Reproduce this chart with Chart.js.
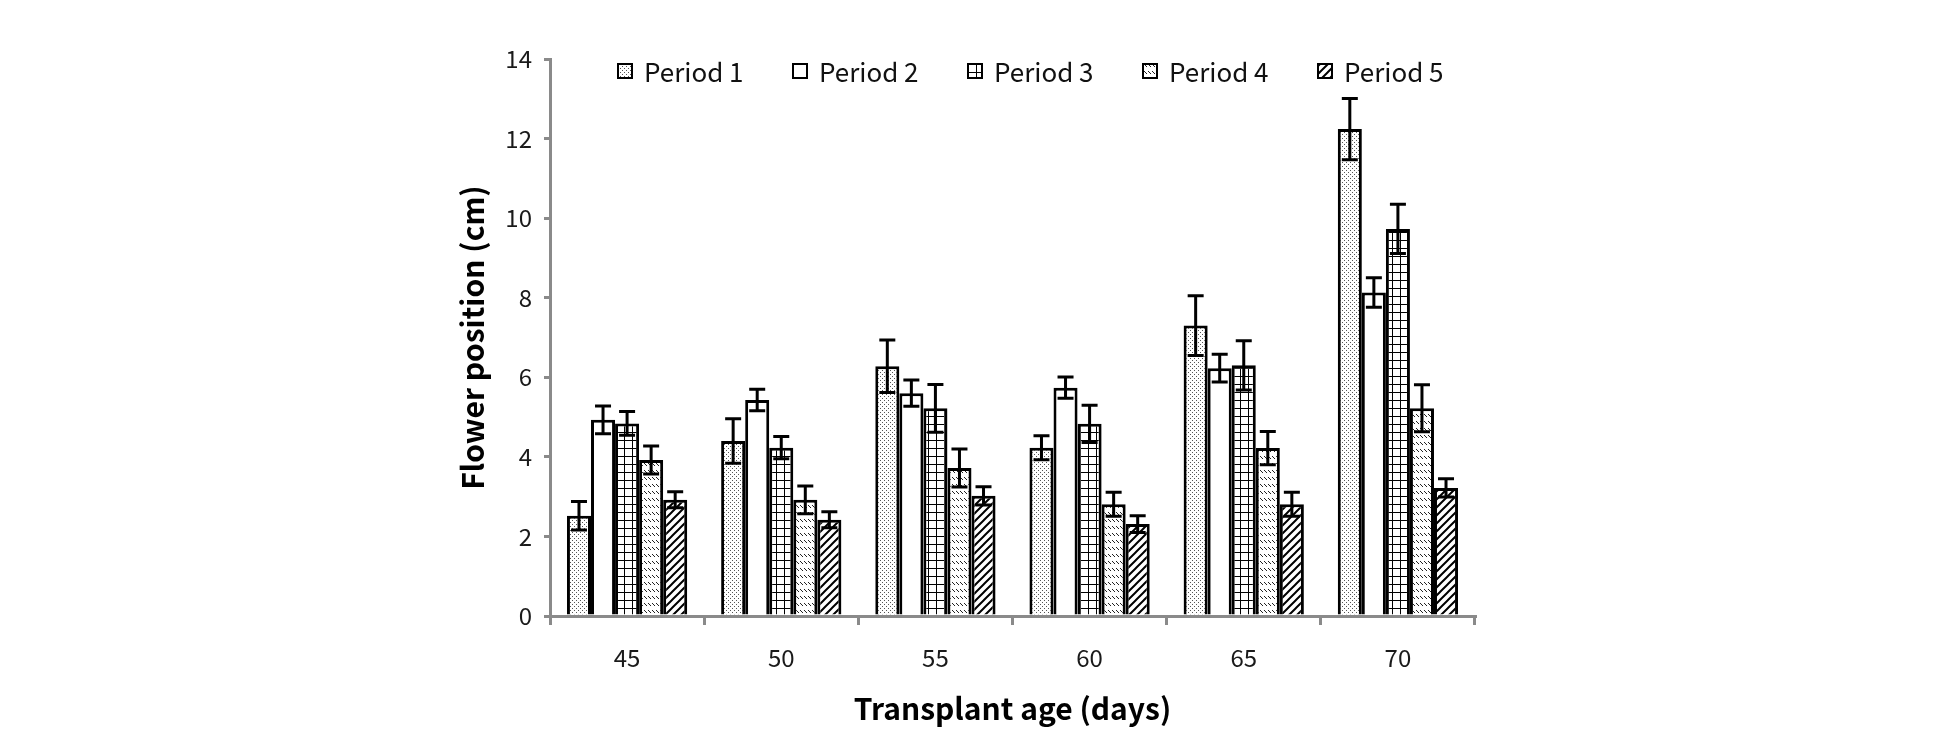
<!DOCTYPE html>
<html>
<head>
<meta charset="utf-8">
<script src="https://cdn.jsdelivr.net/npm/chart.js@4.4.1/dist/chart.umd.min.js"></script>
<style>
  html, body { margin: 0; padding: 0; background: #fff; }
  #wrap { width: 1952px; height: 741px; }
</style>
</head>
<body>
<div id="wrap"><canvas id="c" width="1952" height="741"></canvas></div>
<script>
// ---- data ----
const categories = ['45', '50', '55', '60', '65', '70'];
const seriesNames = ['Period 1', 'Period 2', 'Period 3', 'Period 4', 'Period 5'];
const period1 = [2.52, 4.40, 6.28, 4.23, 7.30, 12.24];
const period2 = [4.93, 5.43, 5.60, 5.74, 6.23, 8.13];
const period3 = [4.84, 4.23, 5.22, 4.83, 6.30, 9.73];
const period4 = [3.92, 2.92, 3.72, 2.81, 4.22, 5.22];
const period5 = [2.92, 2.42, 3.02, 2.31, 2.81, 3.22];
const err1 = [0.36, 0.56, 0.66, 0.30, 0.75, 0.77];
const err2 = [0.35, 0.27, 0.33, 0.27, 0.35, 0.37];
const err3 = [0.30, 0.28, 0.60, 0.47, 0.62, 0.62];
const err4 = [0.35, 0.35, 0.48, 0.30, 0.42, 0.59];
const err5 = [0.20, 0.20, 0.23, 0.21, 0.30, 0.23];
const yTicksMin = 0, yTicksMax = 14, yStep = 2;
const xTitle = 'Transplant age (days)';
const yTitle = 'Flower position (cm)';

// ---- patterns ----
function makePattern(w, h, draw) {
  const c = document.createElement('canvas');
  c.width = w; c.height = h;
  const g = c.getContext('2d');
  g.fillStyle = '#fff'; g.fillRect(0, 0, w, h);
  draw(g);
  return document.getElementById('c').getContext('2d').createPattern(c, 'repeat');
}
const patDots = makePattern(4, 4, g => {
  g.fillStyle = '#555';
  g.fillRect(0, 0, 1, 1); g.fillRect(2, 2, 1, 1);
});
const patWhite = '#ffffff';
const patGrid = makePattern(8, 8, g => {
  g.fillStyle = '#000';
  g.fillRect(0, 0, 8, 1); g.fillRect(0, 0, 1, 8);
});
const patWave = makePattern(4, 7, g => {
  g.fillStyle = '#222';
  g.fillRect(0, 1, 1, 1); g.fillRect(1, 2, 1, 1); g.fillRect(2, 3, 1, 1);
});
const patHatch = makePattern(8, 8, g => {
  g.strokeStyle = '#000'; g.lineWidth = 2;
  g.beginPath();
  g.moveTo(-2, 10); g.lineTo(10, -2);
  g.moveTo(-2, 2); g.lineTo(2, -2);
  g.moveTo(6, 10); g.lineTo(10, 6);
  g.stroke();
});
const fills = [patDots, patWhite, patGrid, patWave, patHatch];
const values = [period1, period2, period3, period4, period5];
const errors = [err1, err2, err3, err4, err5];

const FONT = '"Noto Sans CJK KR", "Noto Sans", sans-serif';

// ---- error bars plugin ----
const errorBars = {
  id: 'errorBars',
  afterDatasetsDraw(chart) {
    const ctx = chart.ctx;
    const ys = chart.scales.y;
    ctx.save();
    ctx.strokeStyle = '#000';
    ctx.lineWidth = 3;
    chart.data.datasets.forEach((ds, i) => {
      const meta = chart.getDatasetMeta(i);
      meta.data.forEach((el, j) => {
        const v = ds.data[j], e = ds.errors[j];
        const yt = ys.getPixelForValue(v + e);
        const yb = ys.getPixelForValue(v - e);
        const x = el.x, cap = 8;
        ctx.beginPath();
        ctx.moveTo(x, yt); ctx.lineTo(x, yb);
        ctx.moveTo(x - cap, yt); ctx.lineTo(x + cap, yt);
        ctx.moveTo(x - cap, yb); ctx.lineTo(x + cap, yb);
        ctx.stroke();
      });
    });
    ctx.restore();
  }
};

// ---- legend inside plot area ----
const innerLegend = {
  id: 'innerLegend',
  afterDraw(chart) {
    const ctx = chart.ctx;
    const area = chart.chartArea;
    ctx.save();
    ctx.font = '26px ' + FONT;
    ctx.textBaseline = 'middle';
    const box = 16, gap = 11;
    const n = chart.data.datasets.length;
    const start = area.left + 67, pitch = 175;
    const yc = area.top + 12;
    chart.data.datasets.forEach((ds, k) => {
      const x = start + k * pitch;
      ctx.fillStyle = ds.backgroundColor;
      ctx.fillRect(x, yc - box / 2, box, box);
      ctx.strokeStyle = '#000'; ctx.lineWidth = 2;
      ctx.strokeRect(x + 1, yc - box / 2 + 1, box - 2, box - 2);
      ctx.fillStyle = '#111';
      ctx.fillText(ds.label, x + box + gap, yc + 1);
    });
    ctx.restore();
  }
};

const datasets = seriesNames.map((name, i) => ({
  label: name,
  data: values[i],
  errors: errors[i],
  backgroundColor: fills[i],
  borderColor: '#000',
  borderWidth: 3,
  categoryPercentage: 0.78,
  barPercentage: 1.0
}));

new Chart(document.getElementById('c'), {
  type: 'bar',
  data: { labels: categories, datasets },
  options: {
    responsive: false,
    animation: false,
    devicePixelRatio: 1,
    layout: { padding: { left: 440, right: 477, top: 59, bottom: 0 } },
    plugins: { legend: { display: false }, tooltip: { enabled: false } },
    scales: {
      x: {
        afterFit(s) { s.height = 125; },
        grid: { display: true, drawOnChartArea: false, drawTicks: true, tickLength: 9, color: '#8a8a8a', lineWidth: 3, offset: true },
        border: { display: true, color: '#8a8a8a', width: 3 },
        ticks: { color: '#1a1a1a', font: { family: FONT, size: 24 }, padding: 18 },
        title: { display: true, text: xTitle, color: '#000', font: { family: FONT, size: 30, weight: 'bold' }, padding: { top: 0, bottom: 14 } }
      },
      y: {
        min: yTicksMin, max: yTicksMax,
        afterFit(s) { s.width = 110; },
        grid: { display: true, drawOnChartArea: false, drawTicks: true, tickLength: 6, color: '#8a8a8a', lineWidth: 3 },
        border: { display: true, color: '#8a8a8a', width: 3 },
        ticks: { stepSize: yStep, color: '#1a1a1a', font: { family: FONT, size: 24 }, padding: 12 },
        title: { display: true, text: yTitle, color: '#000', font: { family: FONT, size: 30, weight: 'bold' }, padding: { top: 15, bottom: 0 } }
      }
    }
  },
  plugins: [errorBars, innerLegend]
});
</script>
</body>
</html>
